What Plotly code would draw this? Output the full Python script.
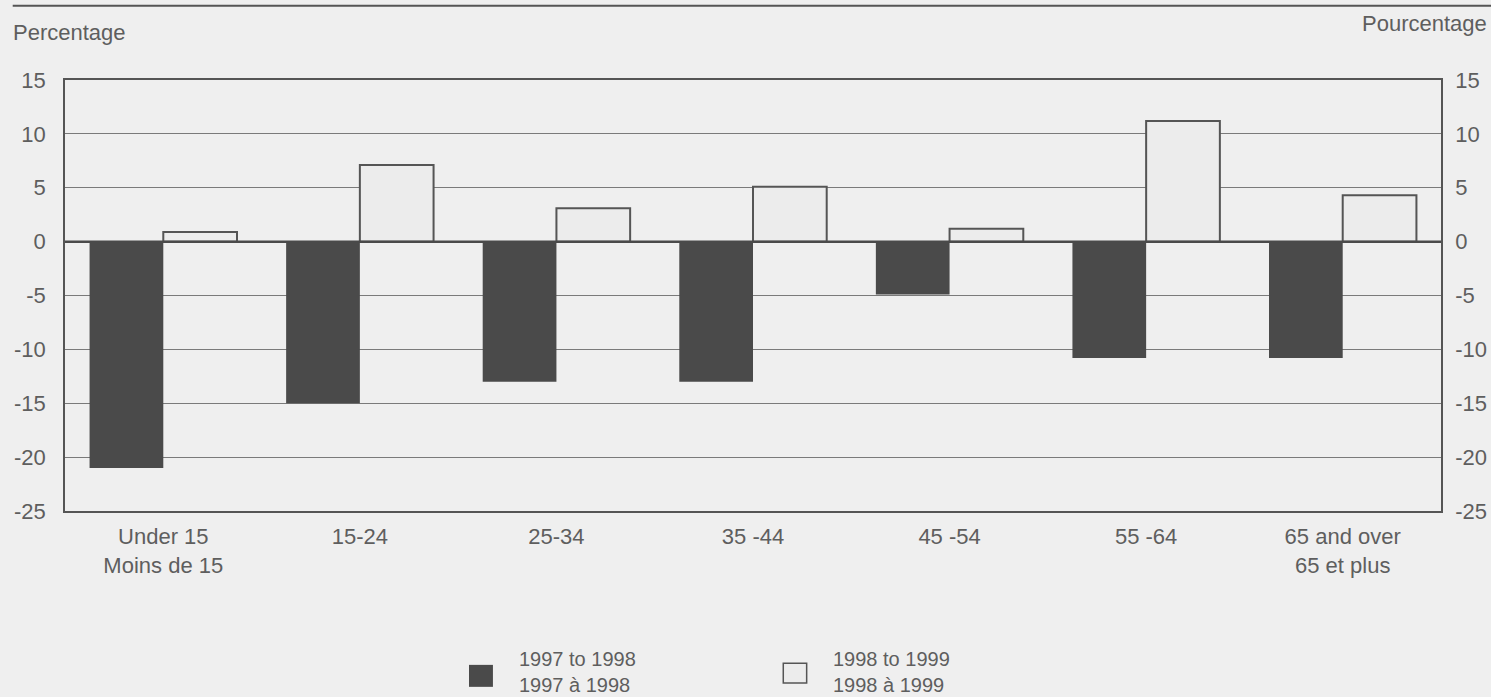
import plotly.graph_objects as go

# Age groups (bilingual labels)
categories = [
    "Under 15<br>Moins de 15",
    "15-24",
    "25-34",
    "35 -44",
    "45 -54",
    "55 -64",
    "65 and over<br>65 et plus",
]
change_97_98 = [-21.0, -15.0, -13.0, -13.0, -4.9, -10.8, -10.8]
change_98_99 = [0.9, 7.1, 3.1, 5.1, 1.2, 11.2, 4.3]

series_names = ["1997 to 1998<br>1997 à 1998", "1998 to 1999<br>1998 à 1999"]
tick_vals = [-25, -20, -15, -10, -5, 0, 5, 10, 15]
tick_text = ["-25", "-20", "-15", "-10", "-5", "0", "5", "10", "15"]

BG = "#efefef"
DARK = "#4a4a4a"
LIGHT = "#ececec"
EDGE = "#555555"
TXT = "#5e5e5e"
FONT = "Liberation Sans, Arial, sans-serif"
FS = 22

fig = go.Figure()
fig.add_trace(go.Bar(
    x=categories, y=change_97_98, name=series_names[0],
    marker=dict(color=DARK, line=dict(width=0)),
))
fig.add_trace(go.Bar(
    x=categories, y=change_98_99, name=series_names[1],
    marker=dict(color=LIGHT, line=dict(width=2, color=EDGE)),
))
# invisible trace so the right-hand axis is drawn
fig.add_trace(go.Scatter(
    x=[categories[0]], y=[0], yaxis="y2", mode="markers",
    marker=dict(opacity=0), showlegend=False, hoverinfo="skip",
))

axis_font = dict(family=FONT, size=FS, color=TXT)
yaxis_common = dict(
    range=[-25, 15], tickvals=tick_vals, ticktext=tick_text,
    tickfont=axis_font, ticks="outside", automargin=False,
    tickcolor="rgba(0,0,0,0)", showline=True, linecolor=EDGE, linewidth=1.5,
    zeroline=False, fixedrange=True,
)

fig.update_layout(
    width=1491, height=697,
    margin=dict(l=65, r=50, t=80, b=186),
    paper_bgcolor=BG, plot_bgcolor=BG,
    barmode="group", bargap=0.25, bargroupgap=0,
    showlegend=False,
    font=dict(family=FONT, color=TXT),
    xaxis=dict(
        tickfont=axis_font, showline=True, linecolor=EDGE, linewidth=1.5,
        mirror=True, ticks="outside", ticklen=5, tickcolor="rgba(0,0,0,0)",
        showgrid=False, automargin=False,
    ),
    yaxis=dict(**yaxis_common, ticklen=13, showgrid=True, gridcolor="#7a7a7a", gridwidth=1),
    yaxis2=dict(**yaxis_common, ticklen=8, overlaying="y", side="right", showgrid=False),
)

# heavy zero line
fig.add_hline(y=0, line=dict(color="#4a4a4a", width=2.5))

# top rule and axis titles
fig.add_shape(type="line", xref="paper", yref="paper",
              x0=-0.038, x1=1.04, y0=1.172, y1=1.172,
              line=dict(color="#555555", width=2))
fig.add_annotation(text="Percentage", xref="paper", yref="paper",
                   x=-0.039, y=1.111, xanchor="left", yanchor="middle",
                   showarrow=False, font=dict(family=FONT, size=FS, color=TXT))
fig.add_annotation(text="Pourcentage", xref="paper", yref="paper",
                   x=1.035, y=1.13, xanchor="right", yanchor="middle",
                   showarrow=False, font=dict(family=FONT, size=FS, color=TXT))

# legend built by hand
legend_items = [
    (0.2936, 0.311, -0.408, -0.357, 0.3285, DARK, 0),
    (0.522, 0.539, -0.399, -0.353, 0.557, LIGHT, 1.5),
]
for (x0, x1, y0, y1, tx, col, lw), name in zip(legend_items, series_names):
    fig.add_shape(type="rect", xref="paper", yref="paper",
                  x0=x0, x1=x1, y0=y0, y1=y1,
                  fillcolor=col, line=dict(color=EDGE, width=lw))
    fig.add_annotation(text=name, xref="paper", yref="paper",
                       x=tx, y=-0.374, xanchor="left", yanchor="middle",
                       align="left", showarrow=False,
                       font=dict(family=FONT, size=20, color=TXT))

fig.write_html(
    "out.html",
    config={"displayModeBar": False},
    post_script="document.body.style.margin='0';document.body.style.overflow='hidden';",
)
